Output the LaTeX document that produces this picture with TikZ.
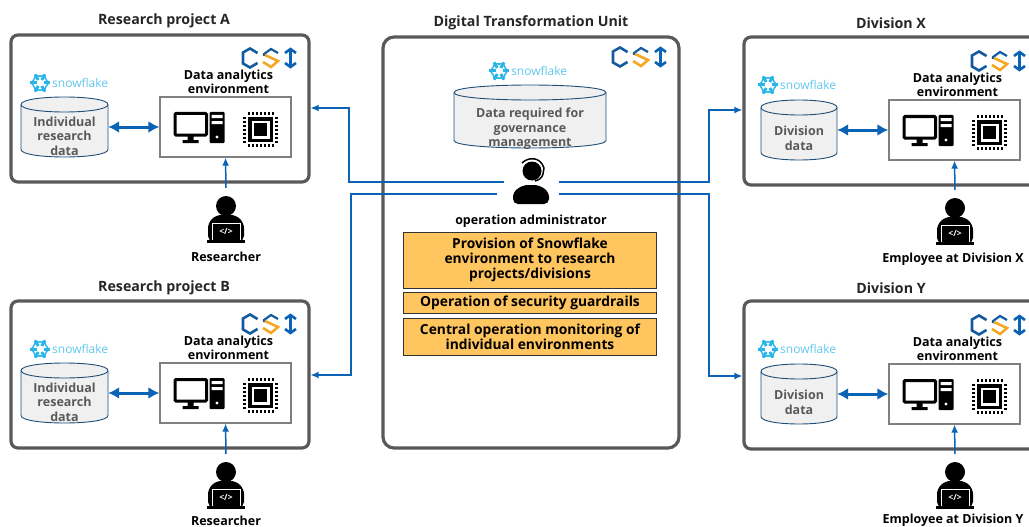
\documentclass[tikz,border=0pt]{standalone}
\usepackage{fontspec}
\setmainfont{Open Sans}
\usetikzlibrary{arrows.meta}
\definecolor{panelgray}{HTML}{595959}
\definecolor{linkblue}{HTML}{0B63B6}
\definecolor{cylline}{HTML}{1F4E79}
\definecolor{cylfill}{HTML}{F0F0F0}
\definecolor{boxorange}{HTML}{FFC55E}
\definecolor{snowblue}{HTML}{29B5E8}
\definecolor{csiorange}{HTML}{F5A623}
\tikzset{
    panel/.style={draw=panelgray,line width=3.2pt,rounded corners=7pt,inner sep=0pt},
    paneltitle/.style={font=\fontsize{14.2}{16}\selectfont\bfseries,text=black!85,inner sep=0pt},
    envbox/.style={draw=gray,line width=1.3pt,fill=white,minimum width=131pt,minimum height=60pt,inner sep=0pt},
    envlabel/.style={font=\fontsize{12.5}{14}\selectfont\bfseries,align=center,inner sep=0pt},
    store/.style={inner sep=0pt},
    storeline/.style={draw=cylline,line width=0.9pt,fill=cylfill},
    storetext/.style={font=\fontsize{12.5}{14.5}\selectfont\bfseries,text=black!65,align=center,inner sep=0pt},
    who/.style={font=\fontsize{12.5}{14}\selectfont\bfseries,inner sep=0pt},
    task/.style={draw=black!80,line width=0.8pt,fill=boxorange,minimum width=253pt,font=\fontsize{13.8}{15.2}\selectfont\bfseries,align=center,inner sep=0pt},
    link/.style={draw=linkblue,line width=1.5pt,-{Latex[length=8pt,width=7pt]}},
    fatlink/.style={draw=linkblue,line width=3pt,{Latex[length=11pt,width=12pt]}-{Latex[length=11pt,width=12pt]}},
    csilogo/.pic={
        \draw[cylline!40!linkblue,line width=2.6pt]
            (16.5,-5) -- (9,-9.5) -- (2,-5.5) -- (2,5.5) -- (9,9.5) -- (16.5,5);
        \draw[cylline!40!linkblue,line width=2.2pt]
            (23,-2) -- (23,-4) -- (30,-9) -- (37,-5);
        \draw[csiorange,line width=2.6pt]
            (24,-3) -- (37,3) -- (30,9) -- (22,4);
        \draw[linkblue,line width=2.6pt]
            (44,-5) -- (49.5,-9) -- (55,-5) (49.5,-9) -- (49.5,9) (44,5) -- (49.5,9) -- (55,5);
    },
    snowlogo/.pic={
        \foreach \a in {0,60,120}
            \draw[snowblue,line width=3pt,rotate=\a] (-10,0) -- (-3.5,0) (3.5,0) -- (10,0);
        \foreach \a in {0,60,...,300}
            \draw[snowblue,line width=1.5pt,rotate=\a] (6,-3.5) -- (8.5,0) -- (6,3.5);
        \node[text=snowblue!75,font=\fontsize{12}{14}\selectfont,inner sep=0pt,anchor=west] at (12,0) {snowflake};
    },
    pcicon/.pic={
        \draw[black,line width=3pt,rounded corners=1pt,fill=white] (1.5,1.5) rectangle (33,23);
        \fill[black] (14,23) rectangle (20,29) (9,28) rectangle (25,31);
        \fill[black,rounded corners=1pt] (36,0) rectangle (51,31);
        \fill[white] (38,3) rectangle (49,6) (38,9) rectangle (49,12);
        \fill[white] (43.5,25) circle (1.6);
    },
    chipicon/.pic={
        \fill[black] (-12.5,-12.5) rectangle (12.5,12.5);
        \fill[white] (-9,-9) rectangle (9,9);
        \fill[black] (-6.5,-6.5) rectangle (6.5,6.5);
        \foreach \t in {-12,-8,...,12} {
            \fill[black] (\t-1,-17.5) rectangle (\t+1,-14.5);
            \fill[black] (\t-1,14.5) rectangle (\t+1,17.5);
            \fill[black] (-17.5,\t-1) rectangle (-14.5,\t+1);
            \fill[black] (14.5,\t-1) rectangle (17.5,\t+1);
        }
    },
    coder/.pic={
        \fill[black] (0,-19) circle (10);
        \fill[black,rounded corners=5pt] (-18,16) -- (-18,-2) -- (-10,-10) -- (10,-10) -- (18,-2) -- (18,16) -- cycle;
        \draw[white,line width=0.9pt,fill=black] (-14,-2) rectangle (14,15);
        \fill[black] (-19,15) rectangle (19,17.5);
        \node[text=white,font=\fontsize{8.5}{9}\selectfont\bfseries,inner sep=0pt] at (0,6.5) {</>};
    },
    operator/.pic={
        \fill[black] (1,-9) circle (9.5);
        \draw[black,line width=1.5pt] (-9,-17) .. controls (-3,-23) and (9,-24) .. (13,-12) -- (12,-6) .. controls (11,-2) and (8,0) .. (4,1);
        \fill[black,rounded corners=5pt] (-18,24) -- (-18,12) -- (-8,5) -- (8,5) -- (18,12) -- (18,24) -- cycle;
    },
}
% one panel body: name prefix, x and y of the box
\newcommand{\envparts}[3]{
    \node[envbox] (#1env) at (#2,#3) {};
    \node[envlabel,anchor=south] (#1envlabel) at (#2+3,#3-33) {Data analytics\\environment};
    \pic at (#2-52,#3-15) {pcicon};
    \pic at (#2+35,#3+2.5) {chipicon};
    \pic at (#2+15.5,#3-69) {csilogo};
}
% data store: name, centre x, centre y, width, height
\newcommand{\storecyl}[5]{
    \node[store,minimum width=#4pt,minimum height=#5pt] (#1) at (#2,#3) {};
    \path[storeline] (#2-#4/2,#3-#5/2+7.5) -- (#2-#4/2,#3+#5/2-7.5)
        .. controls (#2-#4/2,#3+#5/2+2.5) and (#2+#4/2,#3+#5/2+2.5) .. (#2+#4/2,#3+#5/2-7.5)
        -- (#2+#4/2,#3-#5/2+7.5)
        .. controls (#2+#4/2,#3-#5/2-2.5) and (#2-#4/2,#3-#5/2-2.5) .. cycle;
    \draw[storeline,fill=none] (#2-#4/2,#3-#5/2+7.5)
        .. controls (#2-#4/2,#3-#5/2+17.5) and (#2+#4/2,#3-#5/2+17.5) .. (#2+#4/2,#3-#5/2+7.5);
}
\begin{document}
\begin{tikzpicture}[x=1pt,y=-1pt]
\useasboundingbox (0,0) rectangle (1029,527);

% research project A
\node[panel,minimum width=298pt,minimum height=147pt] (pa) at (160,108.5) {};
\node[paneltitle] (patitle) at (164,21) {Research project A};
\envparts{a}{225.5}{127}
\pic at (40,83) {snowlogo};
\storecyl{acyl}{64.5}{127}{87}{60}
\node[storetext] (acyltext) at (64.5,136) {Individual\\research\\data};
\draw[fatlink] (acyl.east) -- (aenv.west);
\pic at (226,225) {coder};
\coordinate (afoot) at (226,188);
\draw[link] (afoot) -- (aenv.south);
\node[who] (awho) at (226,257) {Researcher};

% research project B
\node[panel,minimum width=298pt,minimum height=147pt] (pb) at (160,374.5) {};
\node[paneltitle] (pbtitle) at (164,288) {Research project B};
\envparts{b}{225.5}{393}
\pic at (40,349) {snowlogo};
\storecyl{bcyl}{64.5}{393}{87}{60}
\node[storetext] (bcyltext) at (64.5,402) {Individual\\research\\data};
\draw[fatlink] (bcyl.east) -- (benv.west);
\pic at (226,491) {coder};
\coordinate (bfoot) at (226,454);
\draw[link] (bfoot) -- (benv.south);
\node[who] (bwho) at (226,520.5) {Researcher};

% digital transformation unit
\node[panel,rounded corners=11pt,minimum width=296pt,minimum height=411pt] (dtu) at (531,242.5) {};
\node[paneltitle] (dtutitle) at (531,23) {Digital Transformation Unit};
\pic at (611,57) {csilogo};
\pic at (499,71) {snowlogo};
\storecyl{dtucyl}{530}{116.5}{152}{63}
\node[storetext] (dtucyltext) at (530,129) {Data required for\\governance\\management};
\pic at (531,180) {operator};
\node[who] (admin) at (531,221) {operation administrator};
\node[task,minimum height=56pt] (task1) at (530,260) {Provision of Snowflake\\environment to research\\projects/divisions};
\node[task,minimum height=21pt] (task2) at (530,302.5) {Operation of security guardrails};
\node[task,minimum height=37pt] (task3) at (530,336.5) {Central operation monitoring of\\individual environments};

% division X
\node[panel,minimum width=298pt,minimum height=148pt] (px) at (893,111) {};
\node[paneltitle] (pxtitle) at (891,23) {Division X};
\envparts{x}{954.5}{130}
\pic at (768,85) {snowlogo};
\storecyl{xcyl}{799}{130}{76}{60}
\node[storetext] (xcyltext) at (799,138.5) {Division\\data};
\draw[fatlink] (xcyl.east) -- (xenv.west);
\pic at (955,227) {coder};
\coordinate (xfoot) at (955,190);
\draw[link] (xfoot) -- (xenv.south);
\node[who] (xwho) at (953,259) {Employee at Division X};

% division Y
\node[panel,minimum width=298pt,minimum height=148pt] (py) at (893,375) {};
\node[paneltitle] (pytitle) at (891,288) {Division Y};
\envparts{y}{954.5}{394}
\pic at (768,349) {snowlogo};
\storecyl{ycyl}{799}{394}{76}{60}
\node[storetext] (ycyltext) at (799,402.5) {Division\\data};
\draw[fatlink] (ycyl.east) -- (yenv.west);
\pic at (955,491) {coder};
\coordinate (yfoot) at (955,454);
\draw[link] (yfoot) -- (yenv.south);
\node[who] (ywho) at (953,520.5) {Employee at Division Y};

% links from the administrator
\coordinate (ul) at (504,182);
\coordinate (ll) at (497,194);
\coordinate (ur) at (559,182);
\coordinate (lr) at (559,194);
\draw[link] (ul) -| (349,108) -- (pa.east |- 0,108);
\draw[link] (ll) -| (351,375) -- (pb.east |- 0,375);
\draw[link] (ur) -| (709,110) -- (px.west |- 0,110);
\draw[link] (lr) -| (709,376) -- (py.west |- 0,376);
\end{tikzpicture}
\end{document}
